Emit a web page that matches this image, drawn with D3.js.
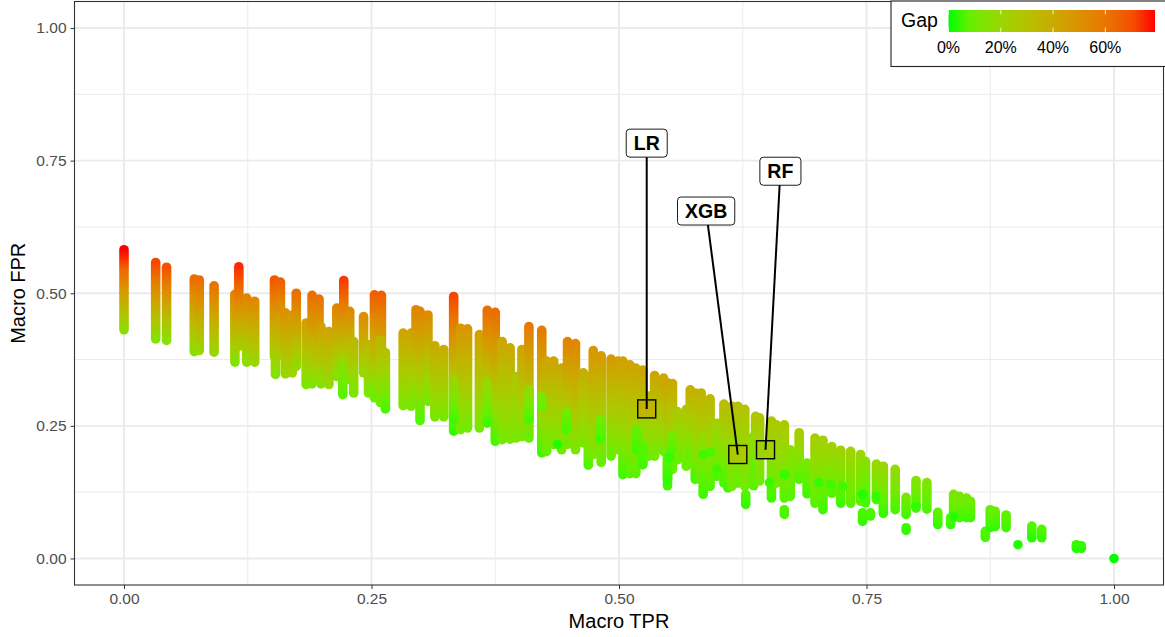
<!DOCTYPE html>
<meta charset="utf-8">
<style>
body { margin: 0; background: #fff; }
text { font-family: "Liberation Sans", Arial, sans-serif; }
</style>
<body>
<script src="https://d3js.org/d3.v7.min.js"></script>
<script>

// one entry per vertical run of points
// the last rows are the low gap runs that sit on top of the others
var tpr = [
  0.000, 0.032, 0.043, 0.071, 0.076, 0.091, 0.112, 0.116, 0.124, 0.132,
  0.152, 0.158, 0.153, 0.163, 0.170, 0.174, 0.184, 0.190, 0.190, 0.197,
  0.199, 0.207, 0.215, 0.222, 0.221, 0.228, 0.232, 0.242, 0.247, 0.253,
  0.260, 0.259, 0.264, 0.282, 0.290, 0.295, 0.299, 0.307, 0.314, 0.323,
  0.333, 0.333, 0.340, 0.347, 0.359, 0.367, 0.375, 0.382, 0.390, 0.396,
  0.402, 0.409, 0.422, 0.427, 0.434, 0.442, 0.448, 0.456, 0.464, 0.469,
  0.474, 0.482, 0.492, 0.499, 0.504, 0.511, 0.517, 0.524, 0.530, 0.536,
  0.545, 0.549, 0.554, 0.559, 0.568, 0.572, 0.577, 0.583, 0.585, 0.592,
  0.599, 0.606, 0.610, 0.614, 0.620, 0.627, 0.628, 0.636, 0.638, 0.642,
  0.654, 0.659, 0.667, 0.667, 0.673, 0.682, 0.690, 0.698, 0.706, 0.715,
  0.724, 0.734, 0.744, 0.746, 0.749, 0.754, 0.760, 0.767, 0.779, 0.790,
  0.790, 0.800, 0.811, 0.822, 0.835, 0.838, 0.844, 0.851, 0.855, 0.870,
  0.875, 0.880, 0.891, 0.903, 0.917, 0.927, 0.962, 0.967, 1.000,
  0.333, 0.367, 0.409, 0.422, 0.447, 0.481, 0.518, 0.524, 0.549, 0.553,
  0.551, 0.592, 0.599, 0.585, 0.667, 0.652, 0.702, 0.714, 0.726, 0.746,
  0.760, 0.800, 0.838, 0.438
];
var fprHigh = [
  0.582, 0.558, 0.549, 0.527, 0.525, 0.514, 0.498, 0.550, 0.491, 0.485,
  0.525, 0.521, 0.420, 0.463, 0.459, 0.500, 0.444, 0.496, 0.410, 0.489,
  0.437, 0.428, 0.472, 0.524, 0.369, 0.466, 0.409, 0.456, 0.403, 0.497,
  0.496, 0.412, 0.388, 0.425, 0.425, 0.469, 0.466, 0.459, 0.401, 0.394,
  0.494, 0.337, 0.434, 0.433, 0.422, 0.468, 0.464, 0.409, 0.397, 0.343,
  0.394, 0.437, 0.430, 0.372, 0.372, 0.359, 0.409, 0.405, 0.350, 0.343,
  0.392, 0.382, 0.376, 0.372, 0.372, 0.365, 0.359, 0.355, 0.306, 0.345,
  0.340, 0.331, 0.330, 0.277, 0.281, 0.318, 0.312, 0.312, 0.230, 0.301,
  0.255, 0.291, 0.186, 0.287, 0.287, 0.281, 0.121, 0.230, 0.268, 0.265,
  0.259, 0.252, 0.252, 0.092, 0.205, 0.237, 0.180, 0.227, 0.223, 0.211,
  0.204, 0.202, 0.196, 0.086, 0.183, 0.086, 0.178, 0.174, 0.168, 0.115,
  0.058, 0.147, 0.143, 0.087, 0.077, 0.121, 0.117, 0.114, 0.108, 0.051,
  0.092, 0.089, 0.082, 0.026, 0.061, 0.055, 0.026, 0.024, 0.000,
  0.337, 0.331, 0.318, 0.305, 0.275, 0.262, 0.243, 0.211, 0.200, 0.230,
  0.190, 0.200, 0.168, 0.196, 0.158, 0.143, 0.143, 0.139, 0.136, 0.121,
  0.117, 0.098, 0.079, 0.215
];
var fprLow = [
  0.431, 0.414, 0.411, 0.390, 0.392, 0.389, 0.370, 0.400, 0.370, 0.370,
  0.381, 0.384, 0.347, 0.348, 0.350, 0.362, 0.328, 0.361, 0.329, 0.359,
  0.329, 0.328, 0.343, 0.368, 0.309, 0.337, 0.312, 0.350, 0.312, 0.303,
  0.318, 0.294, 0.282, 0.288, 0.287, 0.299, 0.260, 0.296, 0.267, 0.267,
  0.331, 0.240, 0.243, 0.246, 0.246, 0.255, 0.221, 0.224, 0.225, 0.227,
  0.230, 0.227, 0.199, 0.202, 0.215, 0.205, 0.215, 0.205, 0.218, 0.176,
  0.196, 0.181, 0.193, 0.205, 0.158, 0.160, 0.160, 0.177, 0.193, 0.193,
  0.202, 0.137, 0.168, 0.186, 0.174, 0.193, 0.149, 0.149, 0.121, 0.136,
  0.155, 0.142, 0.133, 0.136, 0.142, 0.136, 0.102, 0.137, 0.168, 0.146,
  0.114, 0.142, 0.114, 0.083, 0.117, 0.149, 0.122, 0.104, 0.092, 0.123,
  0.104, 0.104, 0.108, 0.070, 0.105, 0.080, 0.111, 0.085, 0.092, 0.083,
  0.053, 0.095, 0.093, 0.064, 0.064, 0.077, 0.077, 0.077, 0.077, 0.040,
  0.058, 0.060, 0.058, 0.026, 0.039, 0.039, 0.019, 0.019, 0.000,
  0.262, 0.256, 0.262, 0.286, 0.243, 0.224, 0.205, 0.177, 0.149, 0.205,
  0.190, 0.200, 0.168, 0.196, 0.158, 0.143, 0.143, 0.139, 0.136, 0.121,
  0.117, 0.098, 0.079, 0.215
];
var gapHigh = [
  0.79, 0.72, 0.70, 0.62, 0.62, 0.60, 0.56, 0.76, 0.55, 0.53,
  0.68, 0.66, 0.35, 0.50, 0.48, 0.62, 0.44, 0.62, 0.36, 0.60,
  0.44, 0.42, 0.55, 0.74, 0.16, 0.53, 0.34, 0.52, 0.33, 0.66,
  0.66, 0.35, 0.30, 0.42, 0.42, 0.55, 0.55, 0.52, 0.40, 0.38,
  0.72, 0.22, 0.48, 0.48, 0.44, 0.62, 0.62, 0.42, 0.40, 0.28,
  0.42, 0.58, 0.58, 0.42, 0.42, 0.40, 0.55, 0.54, 0.38, 0.36,
  0.48, 0.46, 0.46, 0.44, 0.44, 0.43, 0.42, 0.42, 0.30, 0.42,
  0.42, 0.42, 0.40, 0.26, 0.27, 0.38, 0.36, 0.36, 0.18, 0.34,
  0.22, 0.32, 0.10, 0.31, 0.30, 0.29, 0.05, 0.18, 0.28, 0.28,
  0.27, 0.26, 0.26, 0.05, 0.16, 0.25, 0.11, 0.24, 0.23, 0.22,
  0.22, 0.22, 0.20, 0.04, 0.15, 0.04, 0.20, 0.20, 0.18, 0.10,
  0.03, 0.14, 0.13, 0.07, 0.05, 0.12, 0.12, 0.10, 0.10, 0.05,
  0.08, 0.08, 0.07, 0.01, 0.05, 0.05, 0.02, 0.02, 0.00,
  0.20, 0.20, 0.18, 0.12, 0.10, 0.10, 0.08, 0.06, 0.07, 0.10,
  0.02, 0.04, 0.03, 0.03, 0.02, 0.02, 0.02, 0.03, 0.03, 0.01,
  0.02, 0.02, 0.01, 0.01
];
var gapLow = [
  0.17, 0.15, 0.15, 0.15, 0.20, 0.20, 0.14, 0.25, 0.16, 0.20,
  0.22, 0.22, 0.13, 0.20, 0.22, 0.18, 0.12, 0.25, 0.14, 0.25,
  0.15, 0.18, 0.15, 0.20, 0.06, 0.12, 0.12, 0.20, 0.12, 0.08,
  0.18, 0.10, 0.04, 0.12, 0.12, 0.12, 0.05, 0.10, 0.12, 0.12,
  0.25, 0.02, 0.10, 0.10, 0.12, 0.08, 0.04, 0.10, 0.12, 0.12,
  0.12, 0.08, 0.03, 0.08, 0.10, 0.10, 0.10, 0.12, 0.12, 0.05,
  0.12, 0.08, 0.08, 0.12, 0.03, 0.06, 0.06, 0.06, 0.10, 0.10,
  0.10, 0.03, 0.08, 0.08, 0.08, 0.08, 0.04, 0.10, 0.03, 0.05,
  0.05, 0.04, 0.03, 0.10, 0.08, 0.10, 0.02, 0.06, 0.06, 0.10,
  0.03, 0.10, 0.06, 0.04, 0.06, 0.05, 0.03, 0.06, 0.03, 0.05,
  0.03, 0.06, 0.06, 0.02, 0.03, 0.03, 0.05, 0.02, 0.04, 0.03,
  0.02, 0.03, 0.04, 0.02, 0.02, 0.04, 0.04, 0.03, 0.03, 0.03,
  0.02, 0.02, 0.03, 0.01, 0.01, 0.02, 0.01, 0.01, 0.00,
  0.03, 0.03, 0.04, 0.08, 0.04, 0.03, 0.03, 0.03, 0.02, 0.05,
  0.02, 0.04, 0.03, 0.03, 0.02, 0.02, 0.02, 0.03, 0.03, 0.01,
  0.02, 0.02, 0.01, 0.01
];

// the three labelled models
var modelNames = ["LR", "XGB", "RF"];
var modelTpr = [0.528, 0.620, 0.648];
var modelFpr = [0.282, 0.196, 0.205];
var modelGap = [0.36, 0.26, 0.22];
var labelTpr = [0.528, 0.588, 0.663];
var labelFpr = [0.783, 0.655, 0.730];

var axisTicks = [0, 0.25, 0.5, 0.75, 1];
var minorTicks = [0.125, 0.375, 0.625, 0.875];
var legendTicks = [0, 0.2, 0.4, 0.6];

var width = 1165,
    height = 637;

var margin = {top: 1.5, right: 1.5, bottom: 52, left: 74.5};

var x = d3.scaleLinear()
    .domain([-0.05, 1.05])
    .range([margin.left, width - margin.right]);

var y = d3.scaleLinear()
    .domain([-0.05, 1.05])
    .range([height - margin.bottom, margin.top]);

// ggplot style low-high gradient, interpolated in Lab
var color = d3.scaleLinear()
    .domain([0, 0.79])
    .range(["#00ff00", "#ff0000"])
    .interpolate(d3.interpolateLab);

var svg = d3.select("body").append("svg")
    .attr("width", width)
    .attr("height", height)
    .style("display", "block");

var defs = svg.append("defs");

// grid
var grid = svg.append("g").attr("fill", "none").attr("stroke", "#ebebeb");

grid.selectAll(".minorx").data(minorTicks).enter().append("line")
    .attr("x1", x).attr("x2", x)
    .attr("y1", y.range()[0]).attr("y2", y.range()[1])
    .attr("stroke-width", 1);
grid.selectAll(".minory").data(minorTicks).enter().append("line")
    .attr("x1", x.range()[0]).attr("x2", x.range()[1])
    .attr("y1", y).attr("y2", y)
    .attr("stroke-width", 1);
grid.selectAll(".majorx").data(axisTicks).enter().append("line")
    .attr("x1", x).attr("x2", x)
    .attr("y1", y.range()[0]).attr("y2", y.range()[1])
    .attr("stroke-width", 1.9);
grid.selectAll(".majory").data(axisTicks).enter().append("line")
    .attr("x1", x.range()[0]).attr("x2", x.range()[1])
    .attr("y1", y).attr("y2", y)
    .attr("stroke-width", 1.9);

// point runs: a round capped line looks the same as stacked dots
var runs = d3.range(tpr.length);

var grads = defs.selectAll("linearGradient.run").data(runs).enter().append("linearGradient")
    .attr("class", "run")
    .attr("id", function(i) { return "run" + i; })
    .attr("gradientUnits", "userSpaceOnUse")
    .attr("x1", 0).attr("x2", 0)
    .attr("y1", function(i) { return y(fprHigh[i]); })
    .attr("y2", function(i) { return y(fprLow[i]) + 0.01; });

[0, 0.25, 0.5, 0.75, 1].forEach(function(t) {
  grads.append("stop")
      .attr("offset", t)
      .attr("stop-color", function(i) { return color(gapHigh[i] + (gapLow[i] - gapHigh[i]) * t); });
});

svg.append("g").selectAll("path").data(runs).enter().append("path")
    .attr("d", function(i) {
      var p = d3.path();
      p.moveTo(x(tpr[i]), y(fprHigh[i]));
      p.lineTo(x(tpr[i]), y(fprLow[i]) + 0.01);
      return p.toString();
    })
    .attr("fill", "none")
    .attr("stroke", function(i) { return "url(#run" + i + ")"; })
    .attr("stroke-width", 9.6)
    .attr("stroke-linecap", "round");

// model markers
var models = d3.range(modelNames.length);

svg.append("g").selectAll("rect").data(models).enter().append("rect")
    .attr("x", function(i) { return x(modelTpr[i]) - 9; })
    .attr("y", function(i) { return y(modelFpr[i]) - 9; })
    .attr("width", 18)
    .attr("height", 18)
    .attr("fill", function(i) { return color(modelGap[i]); })
    .attr("stroke", "#000")
    .attr("stroke-width", 1.4);

svg.append("g").selectAll("line").data(models).enter().append("line")
    .attr("x1", function(i) { return x(labelTpr[i]); })
    .attr("y1", function(i) { return y(labelFpr[i]); })
    .attr("x2", function(i) { return x(modelTpr[i]); })
    .attr("y2", function(i) { return y(modelFpr[i]); })
    .attr("stroke", "#000")
    .attr("stroke-width", 2);

var labels = svg.append("g").selectAll("g").data(models).enter().append("g")
    .attr("transform", function(i) { return "translate(" + x(labelTpr[i]) + "," + y(labelFpr[i]) + ")"; });

labels.append("text")
    .attr("text-anchor", "middle")
    .attr("dy", "0.36em")
    .style("font-size", "19.5px")
    .style("font-weight", "bold")
    .text(function(i) { return modelNames[i]; });

labels.insert("rect", "text")
    .each(function() {
      var box = this.parentNode.querySelector("text").getBBox();
      d3.select(this)
          .attr("x", box.x - 7.5)
          .attr("y", -14)
          .attr("width", box.width + 15)
          .attr("height", 28);
    })
    .attr("rx", 3.5)
    .attr("fill", "#fff")
    .attr("stroke", "#000")
    .attr("stroke-width", 0.9);

// panel border
svg.append("rect")
    .attr("x", x.range()[0])
    .attr("y", y.range()[1])
    .attr("width", x.range()[1] - x.range()[0])
    .attr("height", y.range()[0] - y.range()[1])
    .attr("fill", "none")
    .attr("stroke", "#333")
    .attr("stroke-width", 1.1);

// axes
var xAxis = svg.append("g")
    .attr("transform", "translate(0," + y.range()[0] + ")")
    .call(d3.axisBottom(x).tickValues(axisTicks).tickFormat(d3.format(".2f")).tickSize(4).tickPadding(4));

var yAxis = svg.append("g")
    .attr("transform", "translate(" + x.range()[0] + ",0)")
    .call(d3.axisLeft(y).tickValues(axisTicks).tickFormat(d3.format(".2f")).tickSize(4).tickPadding(4));

[xAxis, yAxis].forEach(function(a) {
  a.select(".domain").remove();
  a.selectAll("line").attr("stroke", "#333").attr("stroke-width", 1);
  a.selectAll("text").attr("fill", "#4d4d4d").style("font-size", "15.5px").style("font-family", '"Liberation Sans", Arial, sans-serif');
});

svg.append("text")
    .attr("x", (x.range()[0] + x.range()[1]) / 2)
    .attr("y", 628)
    .attr("text-anchor", "middle")
    .style("font-size", "20px")
    .text("Macro TPR");

svg.append("text")
    .attr("transform", "translate(24.5," + (y.range()[0] + y.range()[1]) / 2 + ") rotate(-90)")
    .attr("text-anchor", "middle")
    .style("font-size", "20px")
    .text("Macro FPR");

// legend
var legend = svg.append("g");

legend.append("rect")
    .attr("x", 891)
    .attr("y", 1)
    .attr("width", 280)
    .attr("height", 65.5)
    .attr("fill", "#fff")
    .attr("stroke", "#222")
    .attr("stroke-width", 1.1);

legend.append("text")
    .attr("x", 901)
    .attr("y", 27)
    .style("font-size", "19.5px")
    .text("Gap");

var legendX = d3.scaleLinear().domain([0, 0.79]).range([948.5, 1155]);

var barGrad = defs.append("linearGradient").attr("id", "legendbar");
d3.range(0, 1.001, 0.1).forEach(function(t) {
  barGrad.append("stop").attr("offset", t).attr("stop-color", color(0.79 * t));
});

legend.append("rect")
    .attr("x", legendX.range()[0])
    .attr("y", 10)
    .attr("width", legendX.range()[1] - legendX.range()[0])
    .attr("height", 22)
    .attr("fill", "url(#legendbar)");

legendTicks.forEach(function(d) {
  [[10, 14.4], [27.6, 32]].forEach(function(seg) {
    legend.append("line")
        .attr("x1", legendX(d)).attr("x2", legendX(d))
        .attr("y1", seg[0]).attr("y2", seg[1])
        .attr("stroke", "#fff")
        .attr("stroke-width", 0.8);
  });
  legend.append("text")
      .attr("x", legendX(d))
      .attr("y", 53)
      .attr("text-anchor", "middle")
      .style("font-size", "16px")
      .text(d3.format(".0%")(d));
});

</script>
</body>
